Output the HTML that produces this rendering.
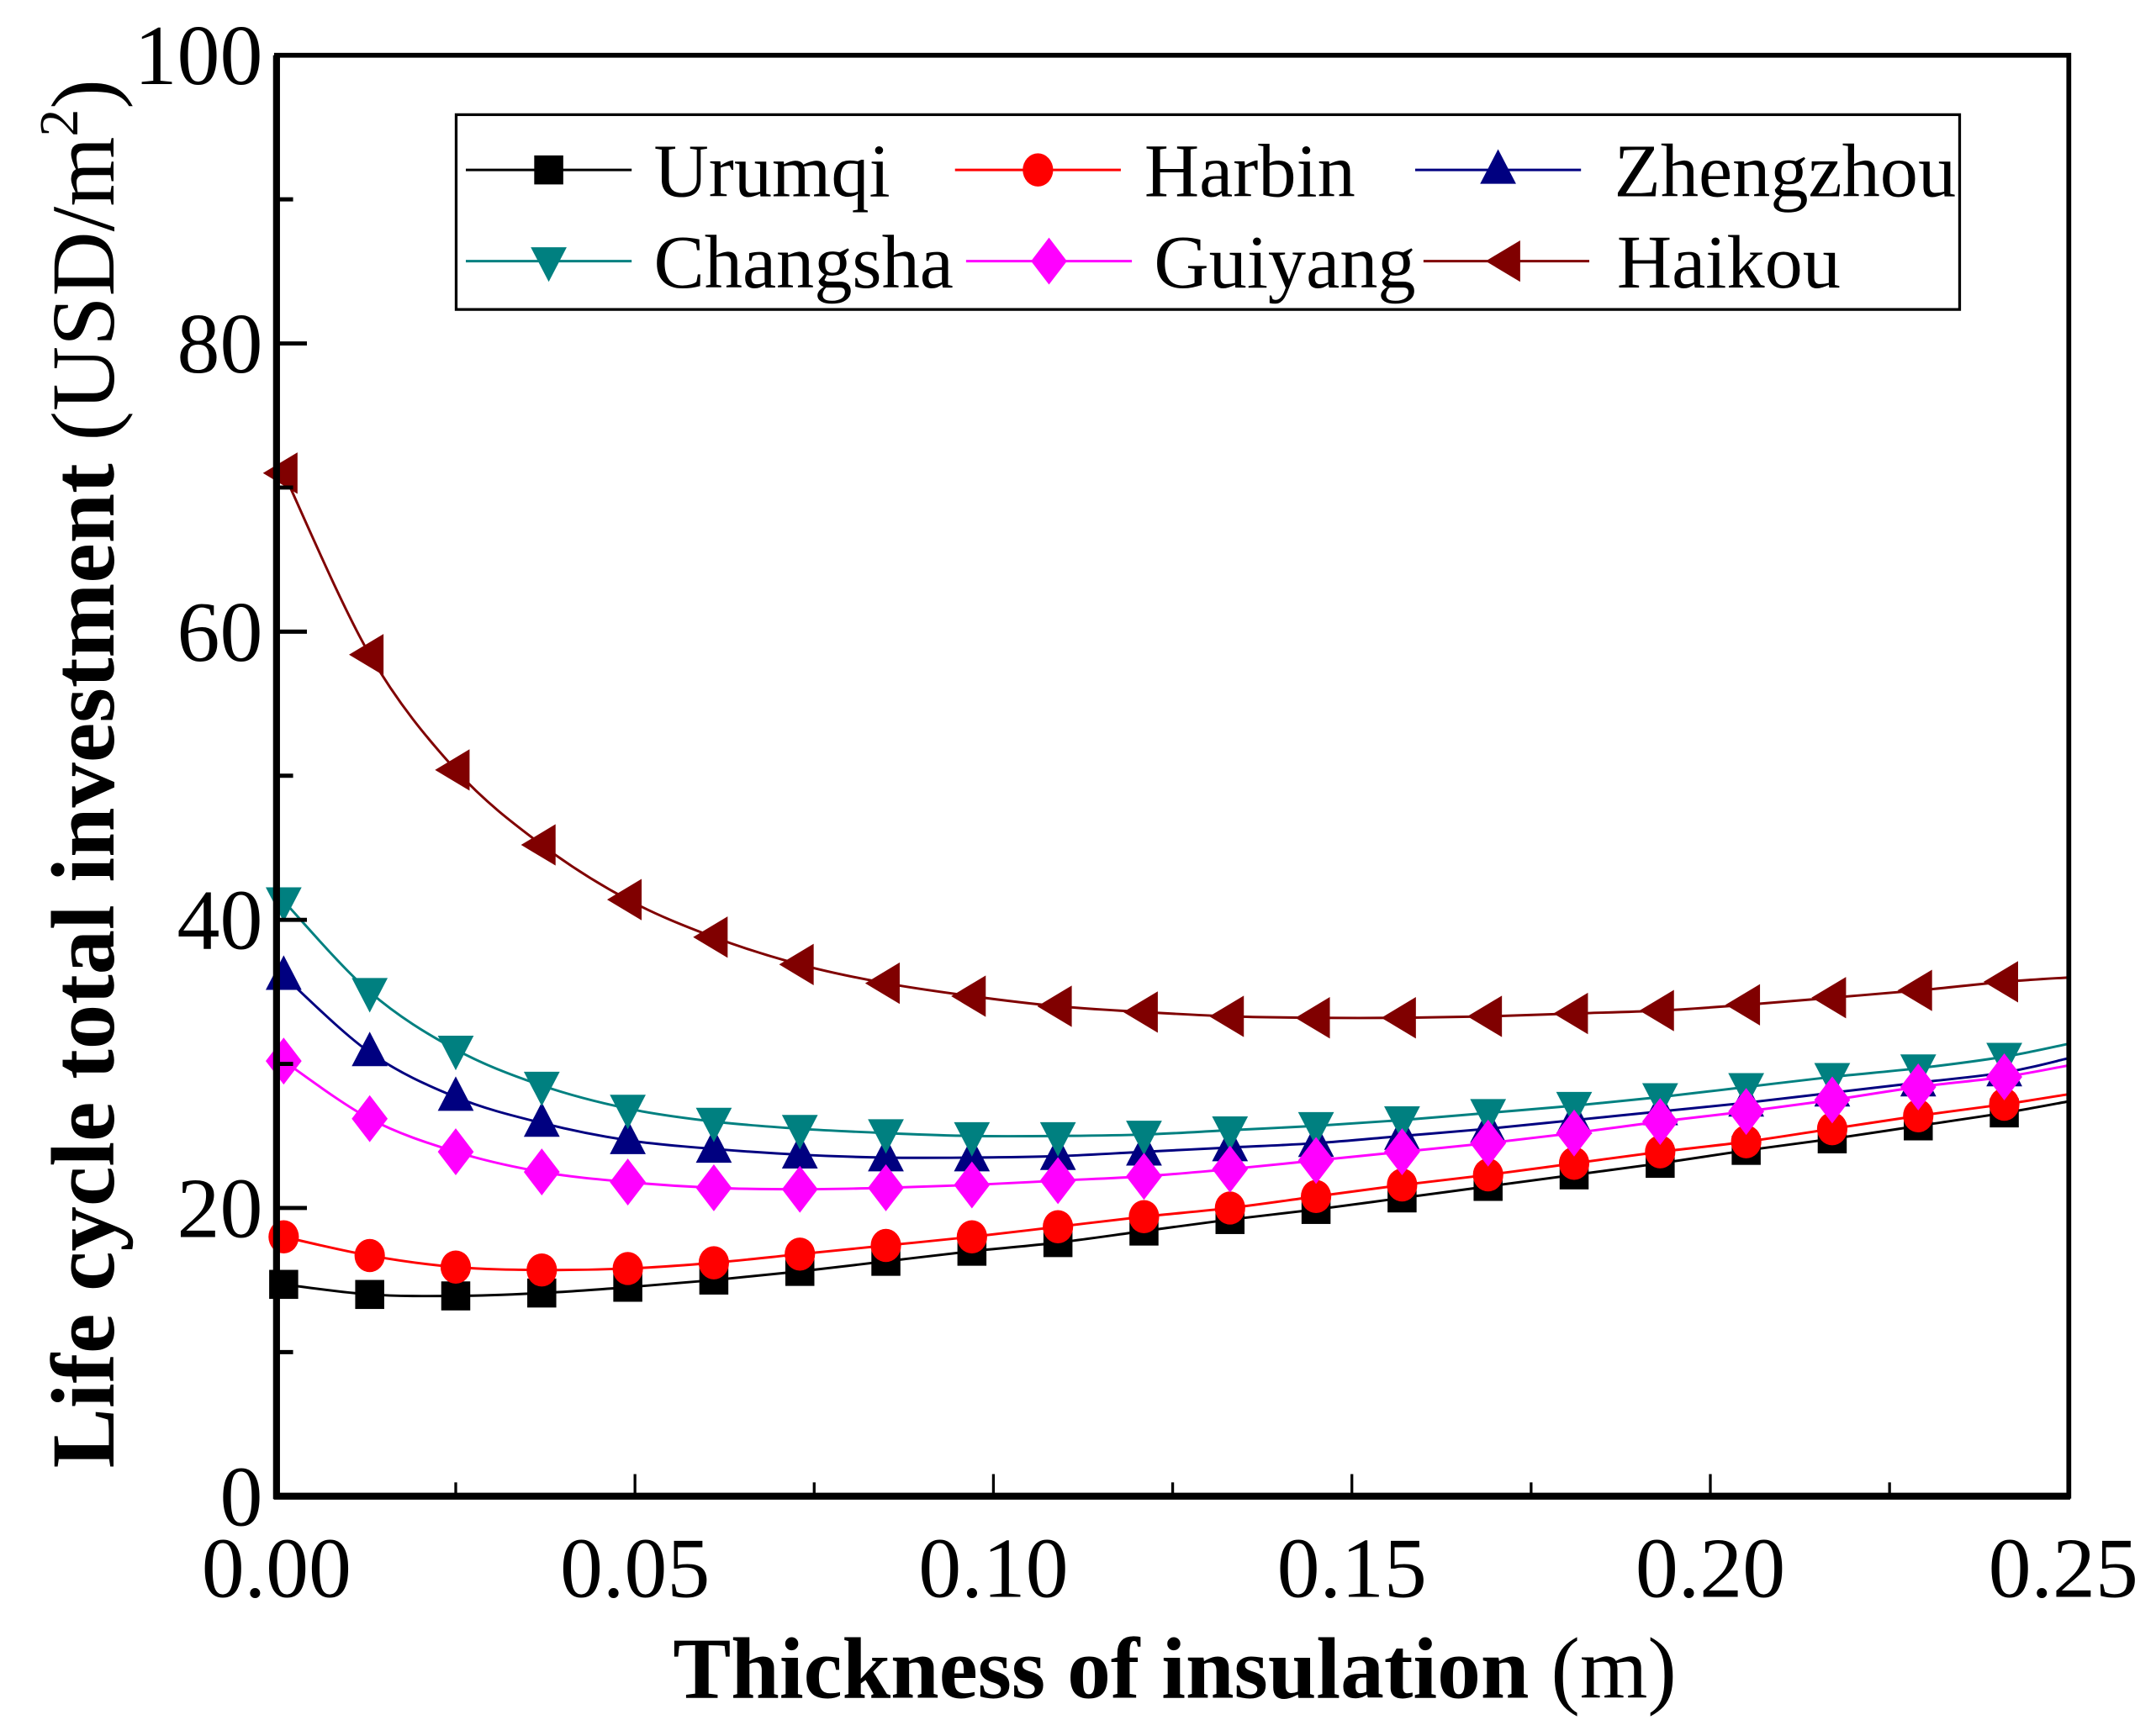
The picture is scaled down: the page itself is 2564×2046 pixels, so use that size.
<!DOCTYPE html>
<html><head><meta charset="utf-8"><style>
html,body{margin:0;padding:0;background:#fff;}
svg{display:block;font-family:"Liberation Serif",serif;}
</style></head><body>
<svg id="chart" width="2564" height="2046" viewBox="0 0 1560 1245" xmlns="http://www.w3.org/2000/svg">
<g id="plot"></g>
</svg>
<script>
const xValues=[0.001,0.013,0.025,0.037,0.049,0.061,0.073,0.085,0.097,0.109,0.121,0.133,0.145,0.157,0.169,0.181,0.193,0.205,0.217,0.229,0.241];
const urumqi=[14.7,14.0,13.9,14.1,14.5,15.0,15.6,16.3,17.0,17.6,18.4,19.2,19.9,20.7,21.5,22.3,23.1,24.0,24.8,25.7,26.6];
const harbin=[18.0,16.7,15.9,15.7,15.8,16.2,16.8,17.4,18.0,18.7,19.4,20.0,20.8,21.6,22.3,23.1,23.9,24.6,25.5,26.4,27.2];
const zhengzhou=[36.1,30.8,27.7,25.9,24.7,24.1,23.7,23.5,23.5,23.6,23.9,24.2,24.5,25.0,25.5,26.1,26.7,27.3,28.0,28.7,29.4];
const changsha=[41.3,35.0,31.0,28.5,26.9,26.0,25.5,25.2,25.0,25.0,25.1,25.4,25.7,26.1,26.6,27.1,27.7,28.4,29.1,29.7,30.5];
const guiyang=[30.2,26.2,23.9,22.5,21.8,21.4,21.3,21.4,21.6,21.9,22.2,22.7,23.3,23.9,24.5,25.2,26.0,26.7,27.5,28.4,29.1];
const haikou=[71.0,58.4,50.4,45.2,41.4,38.8,36.9,35.6,34.7,34.0,33.6,33.3,33.2,33.2,33.3,33.5,33.7,34.1,34.6,35.1,35.7];
const lineEndX=0.25;
const lineEndValues=[27.4,27.9,30.4,31.4,29.9,36.0];
const seriesNames=["Urumqi","Harbin","Zhengzhou","Changsha","Guiyang","Haikou"];
const yTicks=[0,20,40,60,80,100];
const yTickLabels=["0","20","40","60","80","100"];
const xTicks=[0,0.05,0.10,0.15,0.20,0.25];
const xTickLabels=["0.00","0.05","0.10","0.15","0.20","0.25"];

const NS="http://www.w3.org/2000/svg";
const svg=document.getElementById('chart');
const plot=document.getElementById('plot');
const L=200,R=1497,T=40,B=1083;
const xs=v=>L+(v-0)/(0.25)*(R-L);
const ys=v=>B-(v/100)*(B-T);
function mk(tag,attrs,parent){const e=document.createElementNS(NS,tag);for(const k in attrs)e.setAttribute(k,attrs[k]);(parent||svg).appendChild(e);return e;}

const allSeries=[urumqi,harbin,zhengzhou,changsha,guiyang,haikou];
const colors=["#000000","#ff0000","#000080","#008080","#ff00ff","#800000"];
const markers=["square","circle","up","down","diamond","left"];

function marker(type,cx,cy,color,parent){
  let e;
  if(type==="square")e=mk('rect',{x:cx-10.5,y:cy-10.5,width:21,height:21,fill:color},parent);
  else if(type==="circle")e=mk('ellipse',{cx:cx,cy:cy,rx:11,ry:12,fill:color},parent);
  else{
    let p;
    if(type==="up")p=[[cx,cy-15],[cx+13,cy+10],[cx-13,cy+10]];
    else if(type==="down")p=[[cx,cy+15],[cx+13,cy-10],[cx-13,cy-10]];
    else if(type==="diamond")p=[[cx,cy-17],[cx+13,cy],[cx,cy+17],[cx-13,cy]];
    else p=[[cx-15,cy],[cx+10,cy-15],[cx+10,cy+15]];
    e=mk('polygon',{points:p.map(q=>q.join(',')).join(' '),fill:color},parent);
  }
  return e;
}
function smoothPath(pts){
  let d=`M${pts[0][0]},${pts[0][1]}`;
  for(let i=0;i<pts.length-1;i++){
    const p0=pts[Math.max(0,i-1)],p1=pts[i],p2=pts[i+1],p3=pts[Math.min(pts.length-1,i+2)];
    const c1=[p1[0]+(p2[0]-p0[0])/6,p1[1]+(p2[1]-p0[1])/6];
    const c2=[p2[0]-(p3[0]-p1[0])/6,p2[1]-(p3[1]-p1[1])/6];
    d+=` C${c1[0]},${c1[1]} ${c2[0]},${c2[1]} ${p2[0]},${p2[1]}`;
  }
  return d;
}

allSeries.forEach((vals,si)=>{
  const g=mk('g',{},plot);
  
  
  const pts=vals.map((v,i)=>[xs(xValues[i]),ys(v)]);
  pts.push([xs(lineEndX),ys(lineEndValues[si])]);
  const path=mk('path',{d:smoothPath(pts),fill:'none',stroke:colors[si],'stroke-width':1.8},g);
  
  
  vals.forEach((v,i)=>{
    const m=marker(markers[si],xs(xValues[i]),ys(v),colors[si],g);
    
    
  });
});

const frame=mk('rect',{x:L,y:T,width:R-L,height:B-T,fill:'none',stroke:'#000','stroke-width':3.5});


const la=mk('line',{x1:L,y1:T,x2:L,y2:B+2,stroke:'#000','stroke-width':5});


const ba=mk('line',{x1:L-2,y1:B,x2:R+1,y2:B,stroke:'#000','stroke-width':5});



for(let v=0;v<=100;v+=10){
  const major=(v%20===0);
  const t=mk('line',{x1:L,y1:ys(v),x2:L+(major?22:12),y2:ys(v),stroke:'#000','stroke-width':3});
  
  
}
yTicks.forEach((v,i)=>{
  const t=mk('text',{x:190,y:ys(v)+21,'text-anchor':'end','font-size':62});
  t.textContent=yTickLabels[i];
  
  
});
for(let k=0;k<=10;k++){
  const v=k*0.025;const major=(k%2===0);
  const t=mk('line',{x1:xs(v),y1:B,x2:xs(v),y2:B-(major?16:10),stroke:'#000','stroke-width':2});
  
  
}
xTicks.forEach((v,i)=>{
  const t=mk('text',{x:xs(v)-(i===5?4:0),y:1156,'text-anchor':'middle','font-size':62});
  t.textContent=xTickLabels[i];
  
  
});

const xt=mk('text',{x:850,y:1229,'text-anchor':'middle','font-size':63});
xt.innerHTML='<tspan font-weight="bold">Thickness of insulation</tspan> (m)';


const yt=mk('text',{x:0,y:0,'text-anchor':'middle','font-size':65,transform:'translate(82,560) rotate(-90)'});
yt.innerHTML='<tspan font-weight="bold">Life cycle total investment</tspan>  (USD/m<tspan font-size="40" dy="-26">2</tspan><tspan dy="26">)</tspan>';



const lg=mk('g',{});


mk('rect',{x:330,y:83,width:1088,height:141,fill:'#fff',stroke:'#000','stroke-width':2},lg);
const lpos=[[397,123,473],[751,123,828],[1084,123,1168],[397,189,473],[759,189,835],[1090,189,1170]];
seriesNames.forEach((n,i)=>{
  const e=mk('g',{},lg);
  
  
  const [mx,my,tx]=lpos[i];
  mk('line',{x1:mx-60,y1:my,x2:mx+60,y2:my,stroke:colors[i],'stroke-width':1.8},e);
  marker(markers[i],mx,my,colors[i],e);
  const t=mk('text',{x:tx,y:my+19,'font-size':55},e);
  t.textContent=n;
});
</script>
</body></html>
